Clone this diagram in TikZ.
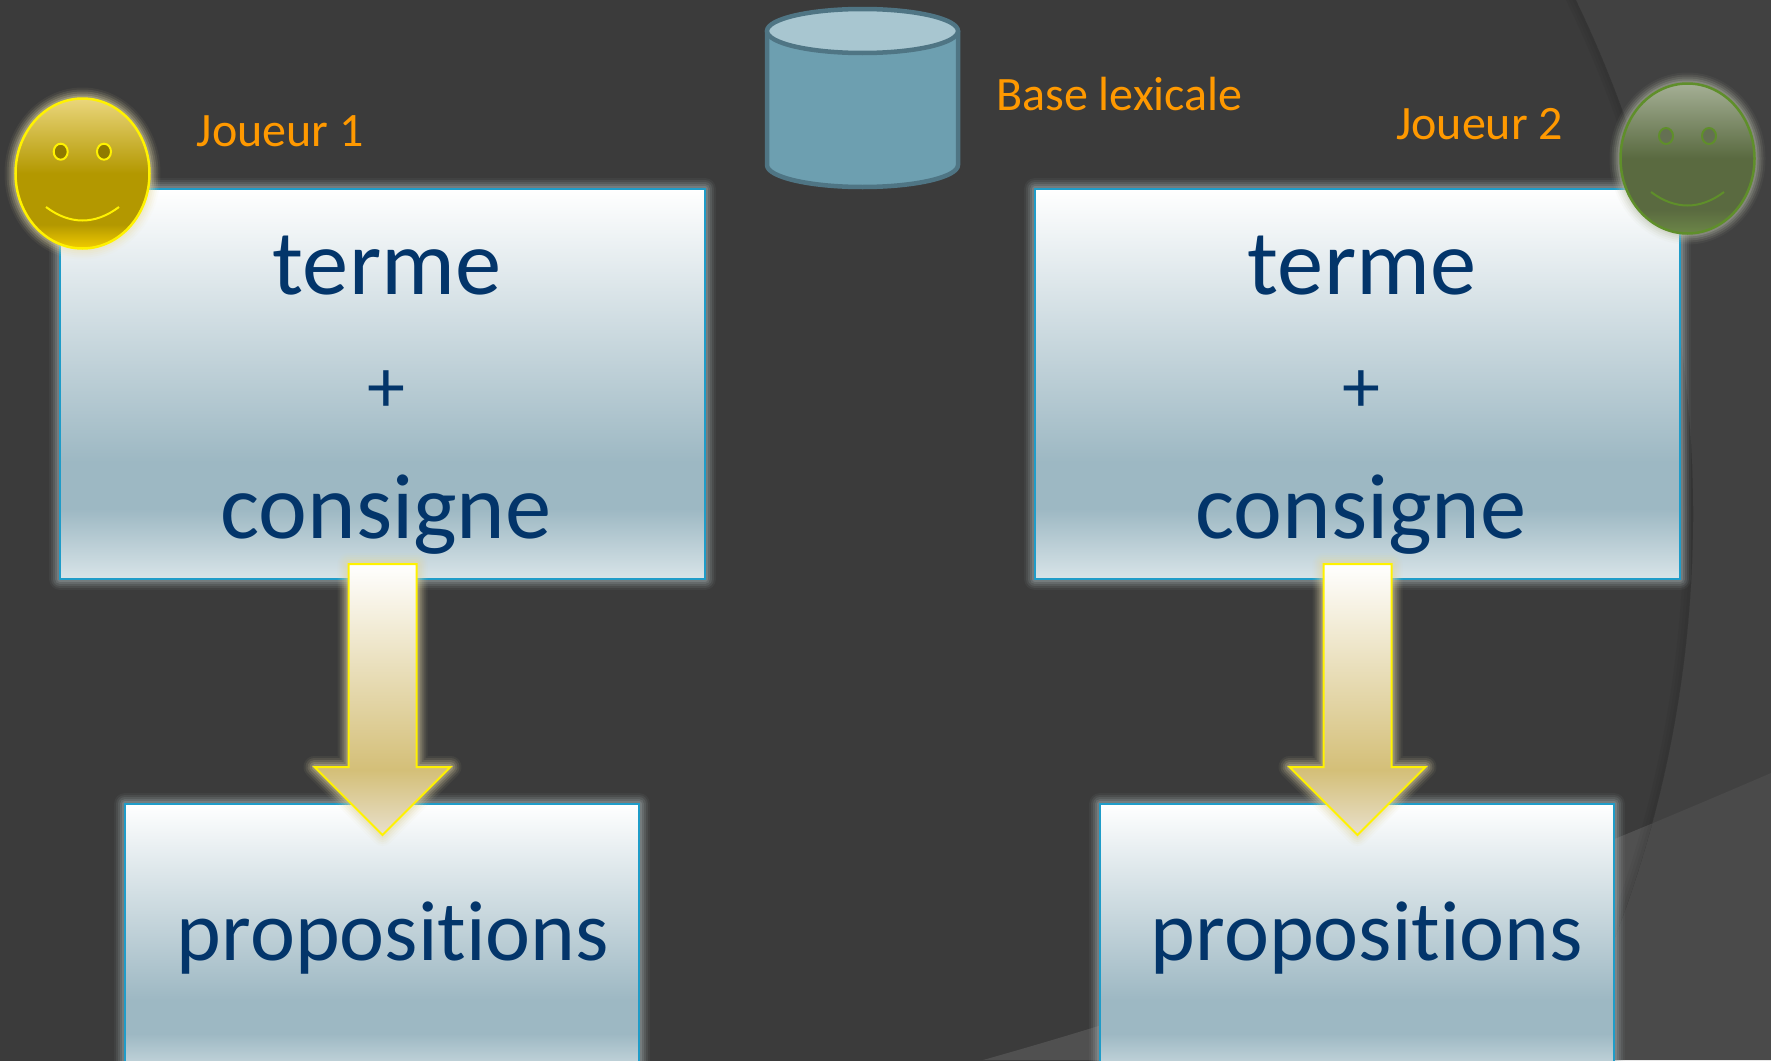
\documentclass[tikz,border=0pt]{standalone}
\usepackage{fontspec}
\setmainfont{Carlito}[Ligatures=NoCommon]
\usepackage{tikz}
\usepackage{xcolor}
\usetikzlibrary{
    shapes,
    calc,
    positioning
}
\definecolor{slate}{HTML}{3B3B3B}
\definecolor{slateout}{HTML}{414141}
\definecolor{wave}{HTML}{505050}
\definecolor{waveout}{HTML}{4A4A4A}
\definecolor{navy}{HTML}{03356A}
\definecolor{amber}{HTML}{FF9900}
\definecolor{boxedge}{HTML}{1F9CC8}
\definecolor{boxdark}{HTML}{9DB8C3}
\definecolor{boxlow}{HTML}{D8E4E8}
\definecolor{boxglow}{HTML}{A6B2B5}
\definecolor{barrel}{HTML}{6D9FB0}
\definecolor{barreltop}{HTML}{A8C6D0}
\definecolor{barreledge}{HTML}{4F7584}
\definecolor{leaf}{HTML}{5F8F2A}
\definecolor{arrowlow}{HTML}{E8E0CC}
\definecolor{arrowmid}{HTML}{D4BF78}
\definecolor{arrowglow}{HTML}{E1D7A5}
\definecolor{goldlow}{HTML}{F2CC00}
\definecolor{goldmid}{HTML}{B39800}
\definecolor{goldhigh}{HTML}{EAD67C}
\definecolor{goldglow}{HTML}{EBE1AF}
\definecolor{mosslow}{HTML}{6C8648}
\definecolor{mossmid}{HTML}{5A6A40}
\definecolor{mosshigh}{HTML}{A4AF95}
\definecolor{mossglow}{HTML}{BEC3AF}
\pgfdeclareverticalshading{boxshade}{100bp}{
    color(0bp)=(boxlow); color(25bp)=(boxlow); color(34bp)=(boxdark); color(40bp)=(boxdark);
    color(75bp)=(white); color(100bp)=(white)}
\pgfdeclareverticalshading{arrowshade}{100bp}{
    color(0bp)=(arrowlow); color(25bp)=(arrowlow);
    color(37bp)=(arrowmid); color(75bp)=(white); color(100bp)=(white)}
\pgfdeclareverticalshading{goldshade}{100bp}{
    color(0bp)=(goldlow); color(25bp)=(goldlow); color(33bp)=(goldmid); color(50bp)=(goldmid);
    color(75bp)=(goldhigh); color(100bp)=(goldhigh)}
\pgfdeclareverticalshading{mossshade}{100bp}{
    color(0bp)=(mosslow); color(25bp)=(mosslow); color(33bp)=(mossmid); color(50bp)=(mossmid);
    color(75bp)=(mosshigh); color(100bp)=(mosshigh)}
\tikzset{
    glow/.style={
        preaction={draw=#1,line join=round,line width=22pt,opacity=.06},
        preaction={draw=#1,line join=round,line width=18pt,opacity=.1},
        preaction={draw=#1,line join=round,line width=14pt,opacity=.14},
        preaction={draw=#1,line join=round,line width=10pt,opacity=.18},
        preaction={draw=#1,line join=round,line width=6pt,opacity=.25}
    },
    slide/.style={draw=boxedge,line width=2pt,shading=boxshade,outer sep=0pt,inner sep=0pt,
        glow=boxglow},
    bigtext/.style={text=navy,anchor=base,inner sep=0pt,font=\fontsize{92.5}{92.5}\selectfont},
    plustext/.style={text=navy,anchor=base,inner sep=0pt,font=\fontsize{76}{76}\selectfont},
    proptext/.style={text=navy,anchor=base,inner sep=0pt,font=\fontsize{85.3}{85.3}\selectfont},
    tag/.style={text=amber,anchor=base west,inner sep=0pt,font=\fontsize{48}{48}\selectfont},
    downarrow/.style={single arrow,shape border rotate=270,anchor=tip,draw=yellow,line width=2pt,
        shading=arrowshade,minimum width=135pt,minimum height=271pt,inner xsep=33pt,inner ysep=0pt,
        outer sep=0pt,single arrow head extend=34pt,single arrow tip angle=90,
        glow=arrowglow},
    face/.style={ellipse,inner sep=0pt,outer sep=0pt,minimum width=134pt,minimum height=150pt,line width=2.5pt},
    eye/.style={ellipse,inner sep=0pt,outer sep=0pt,minimum width=14pt,minimum height=16pt,line width=2pt}
}
\begin{document}
\begin{tikzpicture}[x=1pt,y=-1pt]
    \clip (0, 0) rectangle (1771, 1060);

    % background
    \fill[slateout] (0, 0) rectangle (1771, 1060);
    \fill[waveout] (1771, 773) .. controls (1500, 890) and (1250, 985) .. (983, 1060) -- (1771, 1060) -- cycle;
    \fill[slate] (510, 514) circle (1183);
    \begin{scope}
        \clip (510, 514) circle (1183);
        \fill[wave] (1771, 773) .. controls (1500, 890) and (1250, 985) .. (983, 1060) -- (1771, 1060) -- cycle;
        \foreach \w in {6, 12, 18}
            \draw[black,opacity=.035,line width=\w pt] (510, 514) circle (1183);
    \end{scope}

    % left column
    \node[slide,minimum width=645pt,minimum height=390pt] (boxa) at (382.5, 384) {};
    \node[bigtext] (termea) at (387, 294) {terme};
    \node[plustext] (plusa) at (386.5, 412) {+};
    \node[bigtext] (consignea) at (386, 538) {consigne};
    \node[slide,minimum width=514pt,minimum height=280pt] (propa) at (382, 944) {};
    \node[proptext] (propositionsa) at (393, 960) {propositions};
    \node[downarrow] (arrowa) at (382.5, 835) {};

    % right column
    \node[slide,minimum width=645pt,minimum height=390pt] (boxb) at (1357.5, 384) {};
    \node[bigtext] (termeb) at (1362, 294) {terme};
    \node[plustext] (plusb) at (1361.5, 412) {+};
    \node[bigtext] (consigneb) at (1361, 538) {consigne};
    \node[slide,minimum width=514pt,minimum height=280pt] (propb) at (1357, 944) {};
    \node[proptext] (propositionsb) at (1367, 960) {propositions};
    \node[downarrow] (arrowb) at (1357.5, 835) {};

    % base
    \coordinate (barrelw) at (767, 31);
    \coordinate (barrele) at (958, 31);
    \draw[draw=barreledge,line width=4.5pt,fill=barrel,line join=round]
        (barrelw) -- ++(0, 134) arc[start angle=180, end angle=0, x radius=95.5, y radius=22]
        -- (barrele) -- cycle;
    \node[ellipse,draw=barreledge,line width=4.5pt,fill=barreltop,minimum width=191pt,minimum height=44pt,
        inner sep=0pt,outer sep=0pt] (basetop) at (862.5, 31) {};
    \node[tag] (baselabel) at (996, 110) {Base lexicale};

    % players
    \node[tag] (joueura) at (196.5, 146) {Joueur 1};
    \node[face,draw=yellow,shading=goldshade,glow=goldglow] (facea) at (82.5, 173.5) {};
    \node[eye,draw=yellow,fill=goldmid!80!black] (eyeaa) at (60.7, 151.7) {};
    \node[eye,draw=yellow,fill=goldmid!80!black] (eyeab) at (104, 151.7) {};
    \coordinate (smileaa) at (46, 207);
    \coordinate (smileab) at (119, 207);
    \draw[yellow,line width=2pt] (smileaa) .. controls (70, 225) and (95, 225) .. (smileab);

    \node[tag] (joueurb) at (1396, 139) {Joueur 2};
    \node[face,draw=leaf,shading=mossshade,glow=mossglow] (faceb) at (1687.5, 158.5) {};
    \node[eye,draw=leaf,fill=mossmid!70!gray] (eyeba) at (1666, 136) {};
    \node[eye,draw=leaf,fill=mossmid!70!gray] (eyebb) at (1709, 136) {};
    \coordinate (smileba) at (1651, 192);
    \coordinate (smilebb) at (1724, 192);
    \draw[leaf,line width=2pt] (smileba) .. controls (1675, 210) and (1700, 210) .. (smilebb);
\end{tikzpicture}
\end{document}
